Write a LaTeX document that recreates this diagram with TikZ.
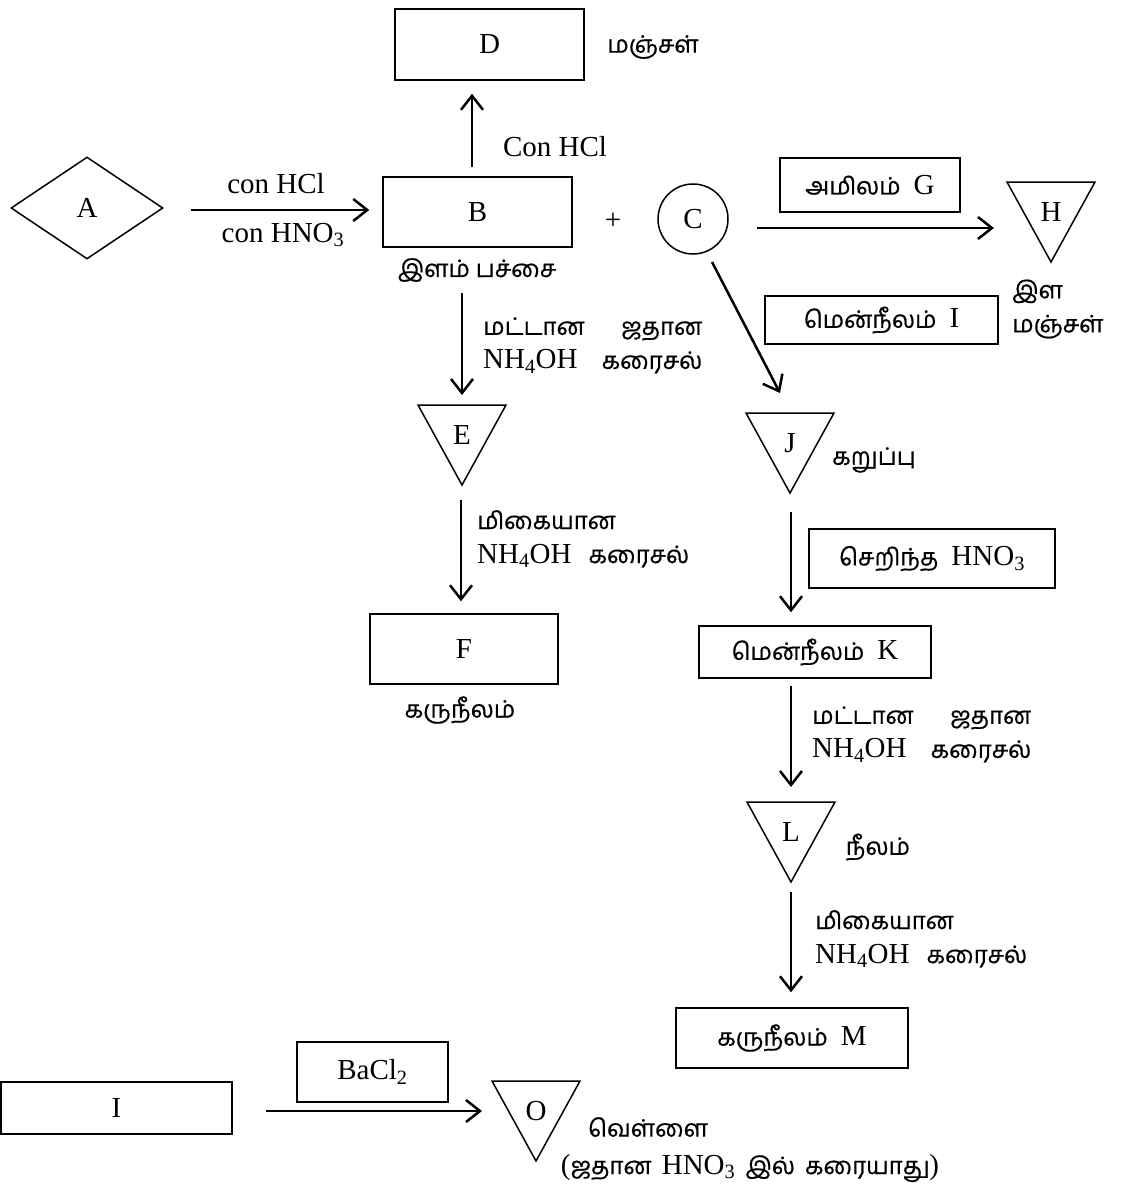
\documentclass[tikz,border=0pt]{standalone}
\usepackage{fontspec}
\setmainfont{Liberation Serif}
\newfontfamily\tamfont[Script=Tamil,FakeBold=0.6]{Hind Madurai}
\usetikzlibrary{shapes.geometric,arrows.meta}

\newcommand{\ta}[1]{{\tamfont\fontsize{24}{34}\selectfont #1}}
% inverted triangle round a precipitate label
\newcommand{\ppt}[1]{\draw[tri] ([shift={(-44,-30)}]#1.center) -- ++(88,0) -- ++(-44,80) -- cycle;}

\tikzset{
  box/.style={draw, line width=1.5pt, inner sep=0pt},
  arr/.style={line width=2.5pt, -{Straight Barb[length=14pt,width=22pt]}},
  tri/.style={line width=1.5pt, line join=miter},
}

\begin{document}
\begin{tikzpicture}[x=1pt,y=-1pt,font=\fontsize{29}{34}\selectfont,inner sep=0pt]
\fill[white] (0,0) rectangle (1121,1187);
\useasboundingbox (0,0) rectangle (1121,1187);

% top row
\node[box, minimum width=189, minimum height=71] (D) at (489.5,44.5) {D};
\node (Dcol) at (653,47) {\ta{மஞ்சள்}};
\node[draw, shape=diamond, line width=1.5pt, minimum width=152, minimum height=102] (A) at (87,208) {A};
\node[box, minimum width=189, minimum height=70] (B) at (477.5,212) {B};
\node (aHCl) at (276,184) {con HCl};
\node (aHNO) at (283,235) {con HNO\textsubscript{3}};
\node (conhcl) at (555,147) {Con HCl};
\node (Bcol) at (477,270) {\ta{இளம் பச்சை}};
\node (plus) at (613,221) {+};
\node[draw, circle, line width=1.5pt, minimum size=70] (C) at (693,219) {C};
\node[box, minimum width=180, minimum height=54] (G) at (870,185) {\ta{அமிலம்}\hspace{0.45em}G};
\node (H) at (1051,212) {H};
\node[anchor=west, align=left] (Hcol) at (1012,309) {\ta{இள}\\\ta{மஞ்சள்}};
\node[box, minimum width=233, minimum height=48] (Ibox) at (881.5,320) {\ta{மென்நீலம்}\hspace{0.45em}I};

% left column
\node[anchor=west] (rE) at (483,345) {\begin{tabular}{@{}l@{\hspace{17pt}}r@{}}\ta{மட்டான} & \ta{ஜதான}\\NH\textsubscript{4}OH & \ta{கரைசல்}\end{tabular}};
\node (E) at (462,435) {E};
\node[anchor=west, align=left] (rF) at (477,539) {\ta{மிகையான}\\NH\textsubscript{4}OH\hspace{17pt}\ta{கரைசல்}};
\node[box, minimum width=188, minimum height=70] (F) at (464,649) {F};
\node (Fcol) at (460,710) {\ta{கருநீலம்}};

% right column
\node (J) at (790,443) {J};
\node (Jcol) at (874,460) {\ta{கறுப்பு}};
\node[box, minimum width=246, minimum height=59] (nitric) at (932,558.5) {\ta{செறிந்த}\hspace{0.45em}HNO\textsubscript{3}};
\node[box, minimum width=232, minimum height=52] (K) at (815,652) {\ta{மென்நீலம்}\hspace{0.45em}K};
\node[anchor=west] (rL) at (812,734) {\begin{tabular}{@{}l@{\hspace{17pt}}r@{}}\ta{மட்டான} & \ta{ஜதான}\\NH\textsubscript{4}OH & \ta{கரைசல்}\end{tabular}};
\node (L) at (791,832) {L};
\node (Lcol) at (878,847) {\ta{நீலம்}};
\node[anchor=west, align=left] (rM) at (815,939) {\ta{மிகையான}\\NH\textsubscript{4}OH\hspace{17pt}\ta{கரைசல்}};
\node[box, minimum width=232, minimum height=60] (M) at (792,1038) {\ta{கருநீலம்}\hspace{0.45em}M};

% bottom row
\node[box, minimum width=231, minimum height=52] (I) at (116.5,1108) {I};
\node[box, minimum width=151, minimum height=60] (barium) at (372.5,1072) {BaCl\textsubscript{2}};
\node (O) at (536,1111) {O};
\node (Ocol) at (648,1127) {\ta{வெள்ளை}};
\node (note) at (750,1168) {(\ta{ஜதான}\hspace{0.35em}HNO\textsubscript{3}\hspace{0.35em}\ta{இல்}\hspace{0.35em}\ta{கரையாது})};

% triangles
\ppt{H}
\ppt{E}
\ppt{J}
\ppt{L}
\ppt{O}

% arrows
\draw[arr] ([shift={(27,2)}]A.east) -- ([shift={(-13,-2)}]B.west);
\draw[arr] ([shift={(-5.5,-9)}]B.north) -- ([shift={(-17.5,13)}]D.south);
\draw[arr] ([shift={(28,9)}]C.east) -- ([shift={(-57,16)}]H.center);
\draw[arr] ([shift={(19,43)}]C.center) -- ([shift={(-10,-50)}]J.center);
\draw[arr] ([shift={(-15.5,45)}]B.south) -- ([shift={(0,-40)}]E.center);
\draw[arr] ([shift={(-1,65)}]E.center) -- ([shift={(-3,-12)}]F.north);
\draw[arr] ([shift={(1,69)}]J.center) -- ([shift={(-24,-13)}]K.north);
\draw[arr] ([shift={(-24,7)}]K.south) -- ([shift={(0,-45)}]L.center);
\draw[arr] ([shift={(0,60)}]L.center) -- ([shift={(-1,-15)}]M.north);
\draw[arr] ([shift={(33,3)}]I.east) -- ([shift={(-54,0)}]O.center);
\end{tikzpicture}
\end{document}
